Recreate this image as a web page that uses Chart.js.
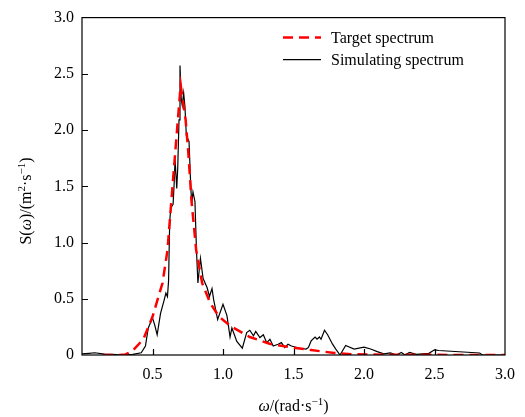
<!DOCTYPE html>
<html lang="en">
<head>
    <meta charset="UTF-8">
    <title>Spectrum</title>
    <style>
        body { margin: 0; background: #fff; }
        #wrap { width: 525px; height: 417px; }
    </style>
    <script src="https://cdn.jsdelivr.net/npm/chart.js"></script>
</head>
<body>
<div id="wrap"><canvas id="spectrumChart" width="525" height="417"></canvas></div>

<script>
    // target spectrum (red dashed)
    var targetW = [0.15, 0.25, 0.31, 0.36, 0.435, 0.5, 0.571, 0.606, 0.63, 0.661, 0.70, 0.735, 0.754, 0.777, 0.81, 0.852, 0.91, 0.97, 1.05, 1.19, 1.33, 1.485, 1.625, 1.79, 1.93, 2.2, 2.6, 3.0];
    var targetS = [0, 0, 0.005, 0.04, 0.14, 0.34, 0.64, 0.93, 1.31, 1.80, 2.40, 2.09, 1.80, 1.365, 0.93, 0.64, 0.46, 0.344, 0.26, 0.16, 0.10, 0.067, 0.044, 0.018, 0.006, 0.002, 0.001, 0];

    // simulating spectrum (black)
    var simW = [0.00, 0.05, 0.09, 0.16, 0.25, 0.30, 0.36, 0.42, 0.45, 0.47, 0.50, 0.515, 0.533, 0.557, 0.583, 0.595, 0.606, 0.614, 0.622, 0.63, 0.646, 0.653, 0.66, 0.672, 0.679, 0.688, 0.695, 0.704, 0.711, 0.721, 0.73, 0.74, 0.759, 0.771, 0.778, 0.787, 0.801, 0.812, 0.822, 0.84, 0.859, 0.887, 0.904, 0.922, 0.934, 0.962, 1.00, 1.028, 1.05, 1.063, 1.098, 1.137, 1.168, 1.19, 1.216, 1.232, 1.262, 1.286, 1.31, 1.333, 1.356, 1.391, 1.414, 1.438, 1.461, 1.485, 1.543, 1.59, 1.606, 1.625, 1.653, 1.667, 1.684, 1.695, 1.72, 1.742, 1.777, 1.80, 1.83, 1.87, 1.93, 2.0, 2.047, 2.094, 2.14, 2.187, 2.23, 2.265, 2.29, 2.323, 2.37, 2.46, 2.50, 2.53, 2.82, 2.84, 2.98];
    var simS = [0.01, 0.015, 0.02, 0.008, 0.003, 0.002, 0.005, 0.02, 0.08, 0.24, 0.33, 0.27, 0.18, 0.37, 0.49, 0.55, 0.52, 0.66, 1.19, 1.31, 1.34, 1.51, 1.74, 1.48, 1.66, 2.09, 2.575, 2.27, 2.22, 2.33, 2.21, 1.95, 1.90, 1.51, 1.34, 1.45, 1.365, 0.93, 0.64, 0.86, 0.68, 0.60, 0.52, 0.59, 0.49, 0.315, 0.45, 0.35, 0.16, 0.24, 0.12, 0.06, 0.20, 0.22, 0.17, 0.21, 0.155, 0.18, 0.11, 0.14, 0.08, 0.096, 0.11, 0.067, 0.096, 0.08, 0.06, 0.053, 0.067, 0.125, 0.16, 0.14, 0.16, 0.14, 0.22, 0.18, 0.096, 0.053, 0.0, 0.085, 0.053, 0.07, 0.053, 0.03, 0.01, 0.018, 0.0, 0.023, 0.0, 0.023, 0.006, 0.015, 0.046, 0.04, 0.018, 0.0, 0.0];

    var xTicks = [0.5, 1.0, 1.5, 2.0, 2.5, 3.0];
    var yTicks = [0, 0.5, 1.0, 1.5, 2.0, 2.5, 3.0];

    var FONT = '"Liberation Serif", "Times New Roman", serif';

    function toPoints(xs, ys) {
        return xs.map(function (v, i) { return { x: v, y: ys[i] }; });
    }

    // draw a string made of pieces (italic / superscript), centred at 0,0
    function drawRich(ctx, parts, size) {
        var supSize = Math.round(size * 0.68);
        var total = 0;
        parts.forEach(function (p) {
            ctx.font = (p.it ? 'italic ' : '') + (p.sup ? supSize : size) + 'px ' + FONT;
            p.w = ctx.measureText(p.t).width;
            total += p.w;
        });
        var cx = -total / 2;
        ctx.textBaseline = 'alphabetic';
        ctx.textAlign = 'left';
        parts.forEach(function (p) {
            ctx.font = (p.it ? 'italic ' : '') + (p.sup ? supSize : size) + 'px ' + FONT;
            ctx.fillText(p.t, cx, p.sup ? -size * 0.4 : 0);
            cx += p.w;
        });
    }

    var framePlugin = {
        id: 'frame',
        afterDraw: function (chart) {
            var ctx = chart.ctx, a = chart.chartArea;
            var xs = chart.scales.x, ys = chart.scales.y;
            ctx.save();
            ctx.strokeStyle = '#000';
            ctx.lineWidth = 1.2;
            ctx.setLineDash([]);
            ctx.strokeRect(a.left, a.top, a.right - a.left, a.bottom - a.top);

            // inward tick marks
            ctx.beginPath();
            xs.ticks.forEach(function (t) {
                if (t.value > 0 && t.value < 3) {
                    var px = Math.round(xs.getPixelForValue(t.value)) + 0.5;
                    ctx.moveTo(px, a.bottom);
                    ctx.lineTo(px, a.bottom - 6);
                }
            });
            ys.ticks.forEach(function (t) {
                if (t.value > 0 && t.value < 3) {
                    var py = Math.round(ys.getPixelForValue(t.value)) + 0.5;
                    ctx.moveTo(a.left, py);
                    ctx.lineTo(a.left + 6, py);
                }
            });
            ctx.stroke();

            // legend
            chart.data.datasets.forEach(function (ds, i) {
                var ly = a.top + 20 + i * 22;
                var lx = a.right - 222;
                ctx.beginPath();
                ctx.strokeStyle = ds.borderColor;
                ctx.lineWidth = ds.borderWidth;
                ctx.setLineDash(ds.borderDash || []);
                ctx.moveTo(lx, ly);
                ctx.lineTo(lx + 38, ly);
                ctx.stroke();
                ctx.setLineDash([]);
                ctx.fillStyle = '#000';
                ctx.font = '16px ' + FONT;
                ctx.textAlign = 'left';
                ctx.textBaseline = 'middle';
                ctx.fillText(ds.label, lx + 48, ly + 1);
            });

            // axis titles
            ctx.fillStyle = '#000';
            ctx.save();
            ctx.translate((a.left + a.right) / 2, 411);
            drawRich(ctx, [
                { t: '\u03c9', it: true },
                { t: '/(rad\u00b7s' },
                { t: '\u22121', sup: true },
                { t: ')' }
            ], 16);
            ctx.restore();

            ctx.save();
            ctx.translate(31, 201);
            ctx.rotate(-Math.PI / 2);
            drawRich(ctx, [
                { t: 'S(' },
                { t: '\u03c9', it: true },
                { t: ')/(m' },
                { t: '2', sup: true },
                { t: '\u00b7s' },
                { t: '\u22121', sup: true },
                { t: ')' }
            ], 16);
            ctx.restore();

            ctx.restore();
        }
    };

    var ctx = document.getElementById('spectrumChart').getContext('2d');
    var spectrumChart = new Chart(ctx, {
        type: 'line',
        data: {
            datasets: [{
                label: 'Target spectrum',
                data: toPoints(targetW, targetS),
                borderColor: '#ff0000',
                borderWidth: 2.5,
                borderDash: [10, 6],
                pointRadius: 0,
                tension: 0,
                fill: false
            }, {
                label: 'Simulating spectrum',
                data: toPoints(simW, simS),
                borderColor: '#000000',
                borderWidth: 1.2,
                pointRadius: 0,
                tension: 0,
                fill: false
            }]
        },
        options: {
            responsive: false,
            animation: false,
            events: [],
            layout: { padding: { left: 0, right: 16, top: 13, bottom: 0 } },
            plugins: {
                legend: { display: false },
                tooltip: { enabled: false }
            },
            scales: {
                x: {
                    type: 'linear',
                    min: 0,
                    max: 3,
                    afterBuildTicks: function (s) { s.ticks = xTicks.map(function (v) { return { value: v }; }); },
                    afterFit: function (s) { s.height = 62; },
                    grid: { display: false, drawTicks: false },
                    border: { display: false },
                    ticks: {
                        color: '#000',
                        padding: 10,
                        maxRotation: 0,
                        font: { family: FONT, size: 16 },
                        callback: function (v) { return v === 0 ? '' : Number(v).toFixed(1); }
                    }
                },
                y: {
                    min: 0,
                    max: 3,
                    afterBuildTicks: function (s) { s.ticks = yTicks.map(function (v) { return { value: v }; }); },
                    afterFit: function (s) { s.width = 82; },
                    grid: { display: false, drawTicks: false },
                    border: { display: false },
                    ticks: {
                        color: '#000',
                        padding: 8,
                        font: { family: FONT, size: 16 },
                        callback: function (v) { return v === 0 ? '0' : Number(v).toFixed(1); }
                    }
                }
            }
        },
        plugins: [framePlugin]
    });
</script>
</body>
</html>
